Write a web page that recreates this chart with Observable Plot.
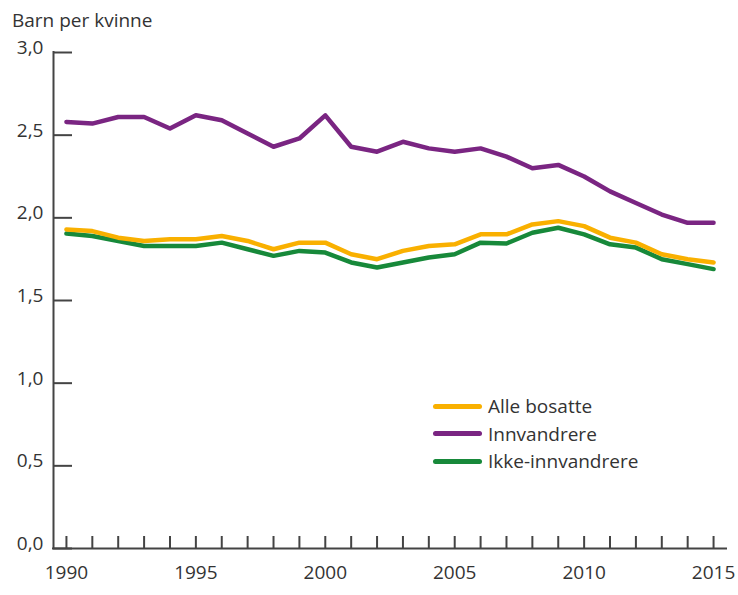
<!DOCTYPE html>
<html>
<head>
<meta charset="utf-8">
<script src="https://cdn.jsdelivr.net/npm/d3@7"></script>
<script src="https://cdn.jsdelivr.net/npm/@observablehq/plot@0.6"></script>
<style>
  html, body { margin: 0; padding: 0; background: #fff; }
  #wrap { position: relative; width: 738px; height: 595px; font-family: "Open Sans", sans-serif; color: #333; }
  #title { box-sizing: border-box; height: 30px; padding: 10px 0 0 12px; font-size: 19px; line-height: 20px; white-space: nowrap; }
  #legend { position: absolute; left: 433px; top: 396px; font-size: 19px; }
  .row { position: absolute; left: 0; height: 20px; line-height: 20px; white-space: nowrap; display: flex; align-items: center; }
  .sw { display: inline-block; width: 49px; height: 5px; border-radius: 2.5px; margin-right: 6px; }
  svg { display: block; }
</style>
</head>
<body>
<div id="wrap">
  <div id="title">Barn per kvinne</div>
  <div id="chart"></div>
  <div id="legend"></div>
</div>
<script>
const years = [1990,1991,1992,1993,1994,1995,1996,1997,1998,1999,2000,2001,2002,2003,2004,2005,2006,2007,2008,2009,2010,2011,2012,2013,2014,2015];
const alleBosatte = [1.93,1.92,1.88,1.86,1.87,1.87,1.89,1.86,1.81,1.85,1.85,1.78,1.75,1.80,1.83,1.84,1.90,1.90,1.96,1.98,1.95,1.88,1.85,1.78,1.75,1.73];
const innvandrere = [2.58,2.57,2.61,2.61,2.54,2.62,2.59,2.51,2.43,2.48,2.62,2.43,2.40,2.46,2.42,2.40,2.42,2.37,2.30,2.32,2.25,2.16,2.09,2.02,1.97,1.97];
const ikkeInnvandrere = [1.905,1.89,1.86,1.83,1.83,1.83,1.85,1.81,1.77,1.80,1.79,1.73,1.70,1.73,1.76,1.78,1.85,1.845,1.91,1.94,1.90,1.84,1.82,1.75,1.72,1.69];
const seriesNames = ["Alle bosatte", "Innvandrere", "Ikke-innvandrere"];
const seriesColors = ["#f9b000", "#7a2582", "#17893a"];
const yTicks = [0, 0.5, 1, 1.5, 2, 2.5, 3];
const xLabelYears = [1990, 1995, 2000, 2005, 2010, 2015];
const xDomain = [1989.5, 2015.5];
const yDomain = [0, 3];

const seriesValues = [alleBosatte, innvandrere, ikkeInnvandrere];
const data = [];
seriesNames.forEach((name, s) => {
  years.forEach((yr, i) => data.push({year: yr, series: name, value: seriesValues[s][i]}));
});
const drawOrder = ["Innvandrere", "Ikke-innvandrere", "Alle bosatte"];
const ordered = drawOrder.flatMap(n => data.filter(d => d.series === n));

const fmtY = d => d.toFixed(1).replace(".", ",");

const chart = Plot.plot({
  width: 738,
  height: 565,
  marginTop: 22,
  marginBottom: 47,
  marginLeft: 53,
  marginRight: 12,
  style: {fontFamily: "'Open Sans', sans-serif", fontSize: "19px", color: "#333", background: "white", overflow: "visible"},
  x: {domain: xDomain},
  y: {domain: yDomain},
  color: {domain: seriesNames, range: seriesColors},
  marks: [
    Plot.line(ordered, {x: "year", y: "value", z: "series", stroke: "series", strokeWidth: 4.5, strokeLinejoin: "round", strokeLinecap: "round"}),
    Plot.axisY(yTicks, {tickSize: -19, tickFormat: () => "", stroke: "#444", strokeWidth: 2, label: null}),
    Plot.axisY(yTicks, {tickSize: 0, tickPadding: 10, dy: -4.5, tickFormat: fmtY, fill: "#333", label: null}),
    Plot.axisX(years, {tickSize: -12, tickFormat: () => "", stroke: "#444", strokeWidth: 2, label: null}),
    Plot.axisX(xLabelYears, {tickSize: 0, tickPadding: 17, tickFormat: d => String(d), fill: "#333", label: null}),
    Plot.ruleX([xDomain[0]], {stroke: "#444", strokeWidth: 2, strokeLinecap: "square"}),
    Plot.ruleY([yDomain[0]], {stroke: "#444", strokeWidth: 2, strokeLinecap: "square"})
  ]
});
document.getElementById("chart").appendChild(chart);

const legend = document.getElementById("legend");
seriesNames.forEach((name, i) => {
  const row = document.createElement("div");
  row.className = "row";
  row.style.top = (i * 27.5) + "px";
  const sw = document.createElement("span");
  sw.className = "sw";
  sw.style.background = seriesColors[i];
  const tx = document.createElement("span");
  tx.textContent = name;
  row.appendChild(sw);
  row.appendChild(tx);
  legend.appendChild(row);
});
</script>
</body>
</html>
